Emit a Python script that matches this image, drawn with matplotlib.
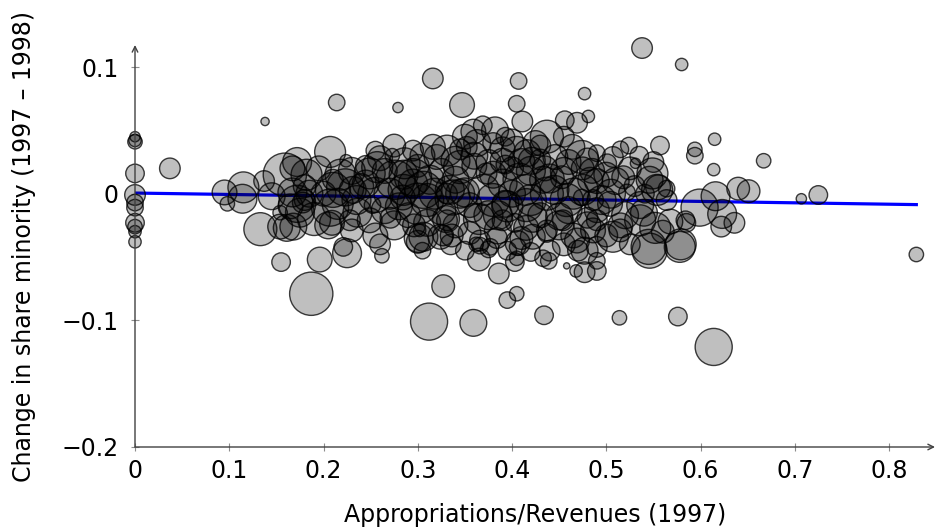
import numpy as np
import matplotlib
matplotlib.use("Agg")
import matplotlib.pyplot as plt

# Appropriations/Revenues (1997), change in share minority, bubble weight
approp = [
    0.0, 0.0, 0.0, 0.0, 0.0, 0.0, 0.0, 0.0, 0.0, 0.0, 0.0,
    0.037, 0.138, 0.214, 0.279, 0.316, 0.347, 0.407, 0.405, 0.477, 0.538, 0.580,
    0.411, 0.456, 0.469, 0.481, 0.524, 0.557, 0.594, 0.594, 0.615, 0.614, 0.531,
    0.667, 0.640, 0.651, 0.707, 0.725, 0.829, 0.599, 0.616, 0.623, 0.622, 0.636,
    0.585, 0.578, 0.546, 0.568, 0.564, 0.546, 0.576, 0.614, 0.514, 0.434, 0.395,
    0.405, 0.312, 0.359, 0.327, 0.386, 0.365, 0.403, 0.439, 0.458, 0.468, 0.477,
    0.490, 0.301, 0.324, 0.336, 0.366, 0.375, 0.362, 0.384, 0.406, 0.437, 0.477,
    0.545, 0.579, 0.584, 0.155, 0.196, 0.187, 0.225, 0.221, 0.262, 0.133, 0.154,
    0.161, 0.098, 0.095, 0.115, 0.114, 0.154, 0.159, 0.167, 0.167,
    0.207, 0.224, 0.182, 0.210, 0.178, 0.172, 0.207, 0.231, 0.249, 0.273, 0.276,
    0.236, 0.252, 0.249, 0.271, 0.300, 0.284, 0.316, 0.320, 0.313, 0.331, 0.306,
    0.302, 0.327, 0.209, 0.228, 0.168, 0.180,
    0.369, 0.382, 0.359, 0.393, 0.437, 0.363, 0.331, 0.405, 0.430, 0.464, 0.474,
    0.490, 0.446, 0.421, 0.390, 0.345, 0.373, 0.393, 0.408, 0.433, 0.453, 0.483,
    0.334, 0.350, 0.337, 0.380, 0.393, 0.414, 0.437, 0.458, 0.474, 0.486, 0.331,
    0.359, 0.375, 0.390, 0.403, 0.422, 0.437, 0.454, 0.480, 0.486, 0.469, 0.366,
    0.377, 0.406, 0.422, 0.405, 0.433,
    0.549, 0.518, 0.554, 0.564, 0.522, 0.541, 0.504, 0.536, 0.536, 0.552, 0.515,
    0.507, 0.490, 0.490,
    0.257, 0.223, 0.507, 0.501, 0.286, 0.295, 0.306, 0.352, 0.416,
    0.175, 0.190, 0.200, 0.215, 0.240, 0.255, 0.265, 0.285, 0.290, 0.310, 0.325,
    0.340, 0.355, 0.370, 0.385, 0.400, 0.415, 0.430, 0.445, 0.460, 0.475, 0.490,
    0.505, 0.520, 0.530, 0.230, 0.245, 0.265, 0.285, 0.300, 0.325, 0.340, 0.360,
    0.380, 0.400, 0.420, 0.435, 0.455, 0.475, 0.490, 0.205, 0.230, 0.255, 0.275,
    0.296, 0.310, 0.340, 0.355, 0.385, 0.415, 0.450, 0.465, 0.500, 0.525, 0.165,
    0.145, 0.137, 0.180, 0.210, 0.345, 0.390, 0.430, 0.480, 0.275, 0.295, 0.255,
    0.440, 0.350, 0.305, 0.260, 0.395, 0.455, 0.490, 0.500, 0.515, 0.535, 0.550,
    0.172, 0.185, 0.195, 0.218, 0.235, 0.245, 0.260, 0.270, 0.280, 0.295, 0.305,
    0.318, 0.330, 0.345, 0.360, 0.365, 0.375, 0.390, 0.395, 0.410, 0.420, 0.425,
    0.440, 0.450, 0.460, 0.465, 0.480, 0.485, 0.495, 0.510, 0.515, 0.525, 0.540,
    0.555, 0.560, 0.350, 0.400, 0.455, 0.380, 0.300, 0.335, 0.410, 0.470, 0.420,
]
share_change = [
    0.045, 0.042, 0.041, 0.016, -0.001, -0.007, -0.011, -0.023, -0.026, -0.030, -0.038,
    0.020, 0.057, 0.072, 0.068, 0.091, 0.070, 0.089, 0.071, 0.079, 0.115, 0.102,
    0.057, 0.058, 0.056, 0.061, 0.038, 0.038, 0.035, 0.030, 0.043, 0.019, 0.024,
    0.026, 0.004, 0.002, -0.004, -0.001, -0.048, -0.011, -0.002, -0.016, -0.026, -0.023,
    -0.023, -0.042, -0.045, -0.022, -0.005, 0.011, -0.097, -0.121, -0.098, -0.096, -0.084,
    -0.079, -0.101, -0.102, -0.073, -0.063, -0.052, -0.054, -0.053, -0.057, -0.061, -0.062,
    -0.061, -0.035, -0.034, -0.033, -0.041, -0.044, -0.040, -0.035, -0.042, -0.031, -0.045,
    -0.042, -0.040, -0.021, -0.054, -0.052, -0.079, -0.047, -0.042, -0.049, -0.028, -0.026,
    -0.027, -0.008, 0.001, 0.005, -0.004, -0.015, 0.015, 0.020, 0.001,
    0.033, 0.026, 0.015, 0.003, -0.007, -0.008, -0.011, 0.003, 0.016, 0.030, 0.011,
    -0.015, -0.009, -0.021, -0.019, -0.008, -0.003, 0.037, 0.029, 0.011, 0.000, -0.034,
    -0.029, -0.033, -0.023, -0.021, -0.026, -0.005,
    0.054, 0.050, 0.049, 0.045, 0.045, 0.040, 0.034, 0.033, 0.038, 0.037, 0.029,
    0.032, 0.029, 0.026, 0.026, 0.021, 0.016, 0.023, 0.011, 0.011, 0.013, 0.011,
    0.003, 0.001, -0.003, -0.005, -0.008, 0.003, 0.000, -0.005, -0.003, -0.005, -0.021,
    -0.015, -0.017, -0.021, -0.023, -0.019, -0.029, -0.021, -0.019, -0.029, -0.037, -0.037,
    -0.042, -0.039, -0.034, -0.051, -0.051,
    0.016, 0.013, 0.003, 0.004, 0.001, 0.000, -0.008, -0.009, -0.021, -0.027, -0.029,
    -0.034, -0.021, -0.053,
    0.021, 0.005, 0.029, 0.024, 0.024, 0.013, 0.003, 0.037, 0.032,
    -0.015, -0.020, 0.000, -0.008, 0.006, -0.001, -0.013, 0.003, -0.017, -0.005, -0.013,
    0.011, -0.009, 0.003, -0.017, 0.000, -0.009, -0.017, 0.003, -0.013, 0.003, -0.013,
    0.000, -0.017, 0.006, 0.018, 0.022, 0.018, 0.015, 0.022, 0.018, 0.026, 0.022,
    0.015, 0.020, 0.018, 0.020, 0.018, 0.020, 0.010, -0.025, -0.029, -0.033, -0.025,
    -0.025, -0.023, -0.025, -0.031, -0.029, -0.027, -0.025, -0.033, -0.033, -0.040, -0.010,
    -0.002, 0.010, 0.006, 0.011, 0.035, 0.035, 0.027, 0.027, 0.038, 0.034, 0.034,
    -0.045, -0.045, -0.045, -0.040, -0.045, -0.040, -0.042, 0.015, 0.035, 0.030, 0.025,
    0.025, 0.000, 0.020, 0.015, -0.005, 0.008, 0.028, 0.000, -0.010, 0.008, 0.030,
    0.000, -0.020, 0.000, 0.030, -0.020, 0.025, 0.008, -0.010, 0.025, -0.005, 0.040,
    0.012, -0.018, 0.025, 0.000, -0.025, 0.018, -0.005, 0.010, -0.025, 0.020, -0.015,
    0.005, -0.030, 0.045, 0.042, 0.045, 0.040, -0.038, -0.040, -0.035, -0.045, -0.046,
]
enroll = [
    5, 6, 7, 9, 10, 8, 8, 9, 7, 6, 6,
    10, 4, 8, 5, 10, 12, 8, 8, 6, 10, 6,
    10, 9, 10, 6, 8, 9, 7, 8, 6, 6, 5,
    7, 11, 11, 5, 9, 7, 18, 14, 14, 10, 10,
    9, 15, 17, 12, 10, 13, 9, 18, 7, 9, 8,
    7, 18, 13, 11, 10, 11, 9, 8, 3, 6, 10,
    9, 14, 12, 11, 8, 8, 7, 10, 8, 9, 13,
    17, 15, 9, 9, 12, 21, 14, 9, 7, 16, 12,
    13, 7, 12, 15, 14, 7, 21, 12, 14,
    15, 6, 15, 17, 10, 18, 18, 13, 15, 7, 19,
    14, 8, 12, 10, 20, 12, 12, 12, 14, 10, 14,
    6, 10, 12, 10, 13, 10,
    9, 13, 12, 9, 16, 13, 15, 15, 10, 12, 16,
    8, 12, 13, 12, 16, 10, 9, 16, 13, 11, 12,
    14, 14, 17, 16, 13, 15, 16, 16, 8, 10, 10,
    9, 14, 10, 9, 14, 10, 10, 10, 12, 12, 10,
    8, 12, 12, 7, 8,
    15, 11, 15, 8, 8, 9, 12, 13, 15, 15, 11,
    15, 10, 8,
    15, 18, 10, 9, 15, 18, 18, 10, 13,
    14, 16, 12, 15, 12, 17, 13, 15, 12, 16, 14,
    13, 12, 15, 14, 13, 16, 12, 14, 13, 15, 12,
    14, 13, 10, 13, 10, 12, 14, 11, 12, 14, 12,
    13, 11, 14, 12, 13, 11, 12, 13, 11, 12, 14,
    11, 13, 12, 11, 13, 12, 14, 12, 11, 10, 12,
    13, 10, 11, 10, 10, 12, 10, 11, 11, 10, 9,
    10, 9, 8, 10, 9, 11, 10, 12, 8, 9, 10,
    14, 13, 12, 15, 14, 13, 12, 15, 13, 14, 12,
    15, 13, 14, 13, 15, 12, 14, 15, 13, 15, 12,
    14, 13, 12, 15, 13, 12, 14, 13, 12, 11, 13,
    12, 11, 12, 11, 10, 10, 11, 10, 11, 10, 9,
]

# fitted line
fit_b0 = 0.0005
fit_b1 = -0.011

xticks = [0, 0.1, 0.2, 0.3, 0.4, 0.5, 0.6, 0.7, 0.8]
xticklabels = ["0", "0.1", "0.2", "0.3", "0.4", "0.5", "0.6", "0.7", "0.8"]
yticks = [-0.2, -0.1, 0, 0.1]
yticklabels = ["\u22120.2", "\u22120.1", "0", "0.1"]

x = np.array(approp)
y = np.array(share_change)
w = np.array(enroll, dtype=float)

fig = plt.figure(figsize=(9.36, 5.31), dpi=100)
ax = fig.add_axes([135 / 936, 1 - 447 / 531, 800 / 936, 402 / 531])

xl = np.array([0, x.max()])
ax.plot(xl, fit_b0 + fit_b1 * xl, color="blue", lw=2.3, zorder=1)

ax.scatter(x, y, s=2.2 * w ** 2, facecolors=(0, 0, 0, 0.25),
           edgecolors=(0, 0, 0, 0.75), linewidths=1.0, zorder=2, clip_on=False)

ax.set_xlim(0, 0.8488)
ax.set_ylim(-0.2, 0.1174)

for s in ax.spines.values():
    s.set_visible(False)
ax.annotate("", xy=(1, 0), xytext=(0, 0), xycoords="axes fraction",
            arrowprops=dict(arrowstyle="->", color="0.25", lw=1.0, shrinkA=0, shrinkB=0))
ax.annotate("", xy=(0, 1), xytext=(0, 0), xycoords="axes fraction",
            arrowprops=dict(arrowstyle="->", color="0.25", lw=1.0, shrinkA=0, shrinkB=0))

ax.set_xticks(xticks)
ax.set_xticklabels(xticklabels)
ax.set_yticks(yticks)
ax.set_yticklabels(yticklabels)
ax.tick_params(direction="inout", length=6, width=0.8, color="0.55",
               labelsize=17, pad=6)
ax.tick_params(axis="y", pad=9)

ax.set_xlabel("Appropriations/Revenues (1997)", fontsize=17, labelpad=14)
ax.set_ylabel("Change in share minority (1997 \u2013 1998)", fontsize=17, labelpad=18)

fig.savefig("out.png", dpi=100)
